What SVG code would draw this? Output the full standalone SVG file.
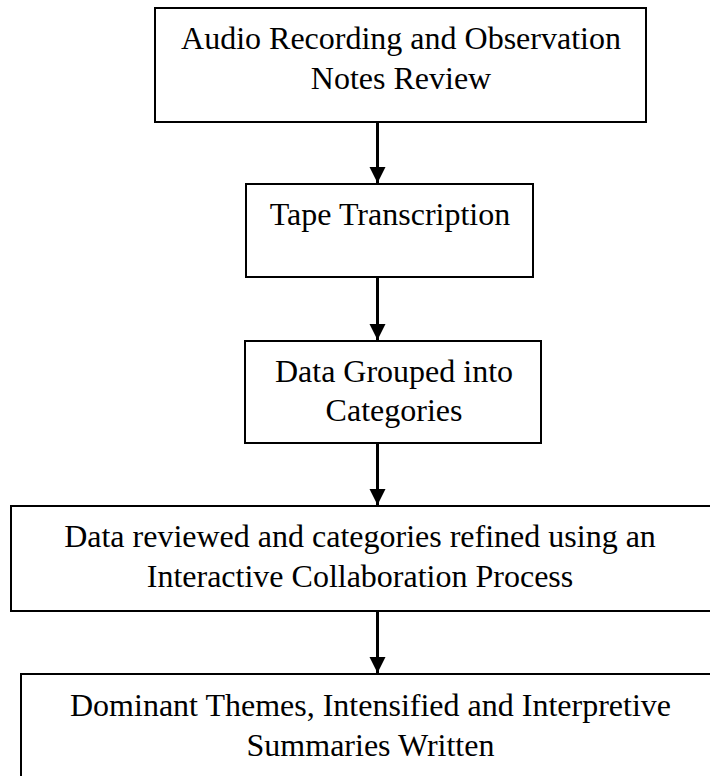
<svg xmlns="http://www.w3.org/2000/svg" width="710" height="776" viewBox="0 0 710 776">
<defs>
<style>
.box{fill:#fff;stroke:#000;stroke-width:2}
.t{font-family:"Liberation Serif","Times New Roman",serif;font-size:32px;fill:#000;text-anchor:middle}
.c{stroke:#000;stroke-width:3;fill:none}
</style>
<marker id="ah" markerUnits="userSpaceOnUse" markerWidth="16" markerHeight="17" refX="16" refY="8" orient="auto" viewBox="0 0 16 16">
<path d="M0,0 L16,8 L0,16 Z" fill="#000"/>
</marker>
</defs>
<rect width="710" height="776" fill="#fff"/>
<g id="connectors">
<line class="c" x1="377.5" y1="123" x2="377.5" y2="183" marker-end="url(#ah)"/>
<line class="c" x1="377.5" y1="278" x2="377.5" y2="340" marker-end="url(#ah)"/>
<line class="c" x1="377.5" y1="444" x2="377.5" y2="505" marker-end="url(#ah)"/>
<line class="c" x1="377.5" y1="612" x2="377.5" y2="673" marker-end="url(#ah)"/>
</g>
<g id="n1">
<rect class="box" x="155" y="8" width="491" height="114"/>
<text class="t" x="401" y="49">Audio Recording and Observation</text>
<text class="t" x="401" y="89">Notes Review</text>
</g>
<g id="n2">
<rect class="box" x="246" y="184" width="287" height="93"/>
<text class="t" x="390" y="225">Tape Transcription</text>
</g>
<g id="n3">
<rect class="box" x="245" y="341" width="296" height="102"/>
<text class="t" x="394" y="382">Data Grouped into</text>
<text class="t" x="394" y="421">Categories</text>
</g>
<g id="n4">
<rect class="box" x="11" y="506" width="701" height="105"/>
<text class="t" x="360" y="547">Data reviewed and categories refined using an</text>
<text class="t" x="360" y="587">Interactive Collaboration Process</text>
</g>
<g id="n5">
<rect class="box" x="21" y="674" width="700" height="120"/>
<text class="t" x="370.5" y="716">Dominant Themes, Intensified and Interpretive</text>
<text class="t" x="370.5" y="756">Summaries Written</text>
</g>
</svg>
